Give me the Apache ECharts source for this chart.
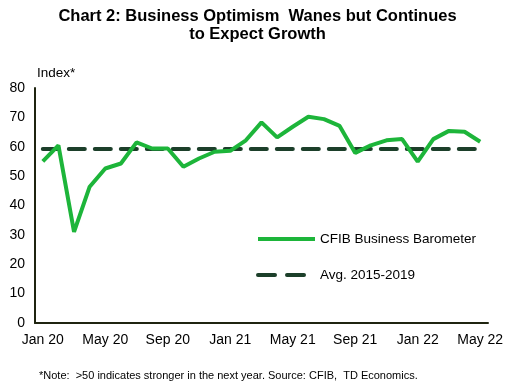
<!DOCTYPE html>
<html><head><meta charset="utf-8">
<script src="https://cdn.jsdelivr.net/npm/echarts@6/dist/echarts.min.js"></script>
<style>html,body{margin:0;padding:0;background:#fff}#c{width:515px;height:385px}</style>
</head><body><div id="c"></div>
<script>
const categories = ['Jan 20','Feb 20','Mar 20','Apr 20','May 20','Jun 20','Jul 20','Aug 20','Sep 20','Oct 20','Nov 20','Dec 20',
  'Jan 21','Feb 21','Mar 21','Apr 21','May 21','Jun 21','Jul 21','Aug 21','Sep 21','Oct 21','Nov 21','Dec 21',
  'Jan 22','Feb 22','Mar 22','Apr 22','May 22'];
const barometer = [55.0,60.5,31.0,46.4,52.6,54.3,61.5,59.4,59.4,53.2,56.0,58.3,
  58.6,62.2,68.3,63.2,66.8,70.2,69.4,67.1,57.9,60.5,62.2,62.6,
  54.9,62.6,65.4,65.1,61.7];
const avgValue = 59.2;
const avgLine = categories.map(() => avgValue);
const yTicks = [0,10,20,30,40,50,60,70,80];

const chart = echarts.init(document.getElementById('c'));
const font = 'Liberation Sans, Arial, sans-serif';
chart.setOption({
  animation:false,
  textStyle:{fontFamily:font},
  title:[{
    text:'Chart 2: Business Optimism  Wanes but Continues\nto Expect Growth',
    left:'center', top:2,
    textStyle:{fontSize:16.5,fontWeight:'bold',color:'#000',lineHeight:18,fontFamily:font}
  },{
    text:'Index*', left:32, top:61,
    textStyle:{fontSize:13.5,fontWeight:'normal',color:'#000',fontFamily:font}
  },{
    text:'*Note:  >50 indicates stronger in the next year. Source: CFIB,  TD Economics.',
    left:34, top:365,
    textStyle:{fontSize:11,fontWeight:'normal',color:'#000',fontFamily:font}
  }],
  grid:{left:35,right:27,top:88,bottom:62},
  legend:{
    orient:'vertical', left:251, top:227, itemWidth:57, itemHeight:14, itemGap:22,
    itemStyle:{opacity:0},
    lineStyle:{width:4},
    textStyle:{fontSize:13.5,color:'#000',fontFamily:font},
    data:[
      {name:'CFIB Business Barometer'},
      {name:'Avg. 2015-2019', lineStyle:{width:4,type:[17,12]}}
    ]
  },
  xAxis:{
    type:'category', data:categories, boundaryGap:true,
    axisLine:{lineStyle:{color:'#1f2410',width:2}},
    axisTick:{show:false},
    axisLabel:{interval:3,color:'#000',fontSize:14,margin:10,fontFamily:font}
  },
  yAxis:{
    type:'value', min:yTicks[0], max:yTicks[yTicks.length-1], interval:10,
    splitLine:{show:false},
    axisLine:{show:true,lineStyle:{color:'#1f2410',width:2}},
    axisTick:{show:false},
    axisLabel:{color:'#000',fontSize:14,margin:10,fontFamily:font}
  },
  series:[{
    name:'CFIB Business Barometer', type:'line', data:barometer,
    symbol:'none', lineStyle:{color:'#1db53a',width:4}, itemStyle:{color:'#1db53a'}, z:3
  },{
    name:'Avg. 2015-2019', type:'line', data:avgLine,
    symbol:'none', lineStyle:{color:'#1c3f2a',width:4,type:[16,10],cap:'round'}, itemStyle:{color:'#1c3f2a'}, z:2
  }]
});
</script></body></html>
